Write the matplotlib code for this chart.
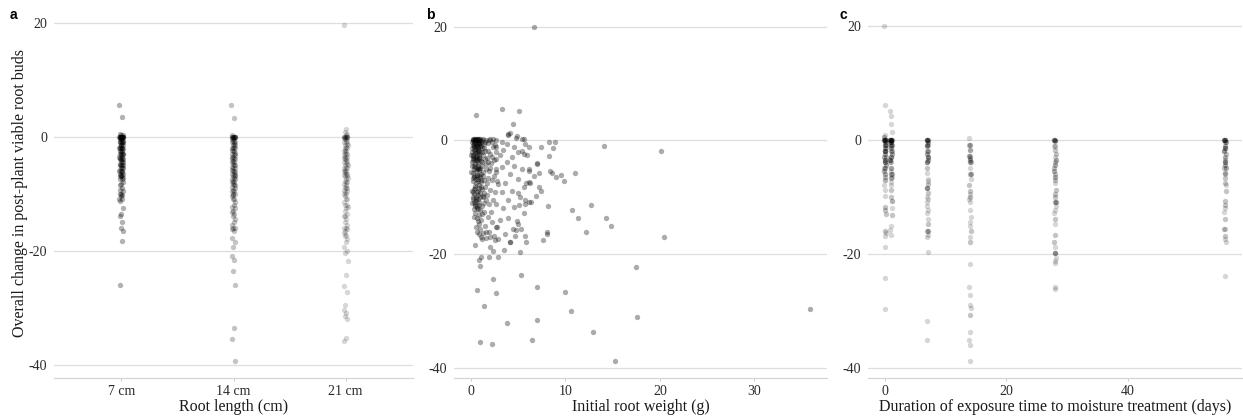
import numpy as np
import matplotlib
matplotlib.use("Agg")
import matplotlib.pyplot as plt

# ---------------- data ----------------
length_labels = ["7 cm", "14 cm", "21 cm"]
length_alpha = [0.30, 0.23, 0.16]

a_7cm = [5.5, 3.5, 0.5, 0.3, 0.2, 0, 0, 0, 0, 0, 0, 0, 0, 0, 0, 0, 0,
         -0.3, -0.5, -0.5, -0.5, -0.7, -1, -1, -1, -1, -1, -1.2, -1.5, -1.5, -1.5, -1.8,
         -2, -2, -2, -2, -2, -2.2, -2.5, -2.5, -2.5, -2.8, -3, -3, -3, -3, -3.3, -3.5, -3.5,
         -3.8, -4, -4, -4, -4, -4.3, -4.5, -4.5, -4.8, -5, -5, -5, -5, -5.3, -5.5, -5.5, -5.8,
         -6, -6, -6, -6.3, -6.5, -6.5, -6.8, -7, -7, -7, -7.3, -7.5, -7.5, -8, -8.3, -8.5,
         -9, -9.3, -9.5, -10, -10, -10.3, -10.5, -11, -11, -11.3, -12.5, -13.5, -14, -15, -16,
         -16.5, -18.4, -26]
a_14cm = [5.5, 3.3, 0.3, 0, 0, 0, 0, 0, 0, 0, 0, 0, -0.3, -0.5, -0.5, -0.8, -1, -1, -1, -1.3,
          -1.5, -1.5, -1.8, -2, -2, -2, -2.3, -2.5, -2.5, -2.8, -3, -3, -3.3, -3.5, -3.5, -3.8,
          -4, -4, -4.3, -4.5, -4.5, -4.8, -5, -5, -5.3, -5.5, -5.5, -5.8, -6, -6, -6.3, -6.5,
          -6.5, -6.8, -7, -7, -7.3, -7.5, -7.5, -7.8, -8, -8, -8.3, -8.5, -8.5, -8.8, -9, -9.3,
          -9.5, -9.5, -10, -10, -10.3, -10.5, -11, -11, -11.5, -12, -12.3, -12.5, -13, -13.3,
          -13.5, -14, -14.5, -15, -15.5, -16, -16, -16.3, -16.5, -17.8, -18.5, -19.4, -21,
          -21.7, -23.6, -26, -33.6, -35.5, -39.4]
a_21cm = [19.6, 1.35, 0.8, 0.5, 0.3, 0, 0, 0, 0, 0, 0, 0, 0, -0.3, -0.5, -0.5, -0.8, -1, -1,
          -1.3, -1.5, -1.5, -1.8, -2, -2, -2.3, -2.5, -2.5, -2.8, -3, -3, -3.3, -3.5, -3.5,
          -3.8, -4, -4, -4.3, -4.5, -4.5, -4.8, -5, -5, -5.3, -5.5, -5.5, -5.8, -6, -6, -6.3,
          -6.5, -6.5, -6.8, -7, -7, -7.3, -7.5, -7.8, -8, -8, -8.3, -8.5, -8.8, -9, -9, -9.3,
          -9.5, -9.8, -10, -10, -10.5, -11, -11, -11.5, -12, -12, -12.3, -12.5, -13, -13.5,
          -14, -14, -14.5, -15, -15.5, -16, -16, -16.3, -16.5, -17, -17.3, -17.5, -18, -18.5,
          -19.3, -20, -20.4, -21.9, -24.2, -26.3, -27.3, -29.5, -30.4, -31, -31.5, -32, -35.4,
          -35.8]

# panel b: (initial root weight g, change)
b_cluster = [
    (0.2, 0.3), (0.4, 0.2), (0.6, 0.3), (0.8, 0.1), (1.0, 0.2), (1.3, 0.3), (1.6, 0.1), (2.0, 0.3),
    (2.3, 0.2), (0.3, -0.3), (0.5, -0.5), (0.7, -0.2), (0.9, -0.6), (1.1, -0.4), (1.4, -0.7),
    (0.2, -0.8), (0.6, -0.9), (1.8, -0.5), (0.4, 0.0), (0.8, -0.3),
    (0.3, -1.2), (0.5, -1.5), (0.7, -1.1), (0.9, -1.8), (1.2, -1.3), (0.1, -2.0), (0.4, -2.2),
    (0.6, -2.5), (1.0, -2.1), (1.5, -1.9), (0.2, -2.8), (0.8, -2.9), (1.3, -2.6), (2.0, -2.4),
    (0.0, -2.6), (0.5, -3.0), (1.7, -3.0), (0.3, -1.7),
    (0.2, -3.4), (0.6, -3.6), (0.9, -3.3), (1.2, -3.8), (0.4, -4.1), (0.1, -4.5), (0.7, -4.4),
    (1.0, -4.8), (1.6, -4.2), (2.1, -4.0), (0.3, -5.0), (0.5, -5.4), (0.8, -5.2), (1.3, -5.6),
    (0.2, -5.8), (1.9, -5.3), (0.6, -6.0), (1.1, -5.9), (2.4, -6.2), (0.0, -5.5),
    (0.3, -6.4), (0.7, -6.7), (1.0, -6.5), (1.4, -7.0), (0.2, -7.2), (0.5, -7.5), (0.9, -7.8),
    (1.7, -7.4), (2.2, -6.9), (0.4, -8.0), (0.8, -8.3), (1.2, -8.6), (0.1, -8.8), (0.6, -9.0),
    (1.5, -8.1), (2.0, -8.7),
    (0.3, -9.4), (0.7, -9.6), (1.0, -9.3), (1.3, -10.0), (0.2, -10.3), (0.5, -10.6), (0.9, -10.8),
    (1.6, -10.4), (0.4, -11.1), (0.8, -11.3), (0.1, -11.0), (1.2, -11.6), (0.6, -11.9),
    (1.9, -11.2), (0.3, -12.0), (1.0, -12.2),
    (0.4, -12.8), (0.9, -13.1), (1.4, -12.6), (0.6, -13.6), (1.1, -14.0), (1.8, -13.4),
    (0.8, -14.6), (1.5, -15.0), (2.2, -14.3), (1.0, -15.6), (0.5, -15.2), (1.3, -16.2),
    (1.9, -16.0), (0.9, -16.4), (2.4, -16.8), (1.6, -17.2), (2.0, -17.0), (1.2, -17.3),
    (2.8, -15.2), (2.5, -17.5),
    (0.25, 0.1), (0.45, -0.1), (0.65, 0.0), (0.85, -0.4), (1.05, -0.1), (0.35, -0.7), (0.55, -1.0),
    (0.75, -1.3), (0.95, -0.9), (0.15, -1.4), (0.45, -1.9), (0.65, -2.1), (0.85, -2.4),
    (0.25, -2.5), (1.15, -2.0), (0.35, -3.2), (0.55, -3.5), (0.75, -3.9), (0.95, -3.0),
    (0.15, -3.7), (0.5, -0.6), (0.3, 0.3), (0.7, 0.3), (0.4, -4.6), (0.6, -5.0), (0.3, -6.2),
    (0.5, -6.8), (0.7, -7.2), (0.4, -8.4), (0.5, -9.9), (0.3, -10.8), (0.6, -11.5), (0.7, -10.2),
    (0.2, -9.1), (0.9, -5.0), (1.1, -7.0),
    (0.2, 0.0), (0.5, 0.2), (0.9, 0.3), (1.2, 0.0), (1.5, -0.3), (1.9, 0.1), (2.2, -0.2),
    (0.35, -1.0), (0.75, -1.6), (1.1, -1.0), (1.4, -1.4), (1.8, -1.8), (2.3, -1.2),
    (0.25, -3.0), (0.65, -3.2), (1.05, -3.6), (1.45, -3.3), (1.85, -3.7), (2.25, -2.9),
    (0.35, -4.4), (0.75, -4.9), (1.15, -4.5), (1.55, -5.1), (2.0, -4.8),
    (0.25, -6.6), (0.65, -6.3), (1.05, -7.3), (1.3, -6.2), (1.85, -6.6),
    (0.35, -8.6), (0.75, -8.9), (1.05, -8.2), (1.4, -9.2), (1.75, -9.5),
    (0.25, -10.0), (0.55, -10.3), (0.95, -10.0), (1.35, -11.0), (0.45, -11.6), (0.75, -12.0),
    (0.3, -13.5), (0.7, -14.2), (1.2, -13.0), (0.6, -16.0), (1.1, -16.9), (1.6, -16.0),
    (2.6, 0.1), (2.5, -0.8), (2.7, -2.0), (2.4, -3.5), (2.6, -5.0), (2.8, -7.2), (2.5, -9.0),
    (2.3, -10.5), (2.1, -12.5), (0.15, -0.2), (0.55, -2.8), (0.85, -6.0), (1.25, -9.8),
]
b_spread = [
    (3.97, 1.1), (4.75, 0.5), (5.4, 0.2), (3.26, -0.3), (3.8, -0.6), (5.74, -0.6), (4.57, -1.1),
    (6.1, -1.2), (2.7, -1.2), (3.43, -1.75), (5.0, -2.0), (5.57, -2.3), (3.1, -2.6), (4.33, -2.9),
    (2.7, -3.2), (3.8, -3.8), (7.0, -4.0), (4.6, -4.4), (3.26, -4.7), (5.4, -5.0), (2.7, -5.6),
    (4.15, -5.9), (6.1, -5.3), (5.0, -6.8), (3.6, -7.4), (6.3, -7.4), (2.9, -7.6), (5.57, -8.2),
    (4.33, -8.8), (7.2, -8.2), (3.26, -9.1), (5.2, -9.9), (3.97, -10.5), (2.7, -11.1),
    (6.1, -10.8), (4.6, -11.7), (3.43, -11.9), (5.57, -12.8), (3.97, -13.7), (3.1, -14.0),
    (5.0, -14.6), (2.7, -15.2), (4.4, -15.5), (3.6, -16.4), (5.75, -16.7), (2.9, -17.3),
    (4.15, -17.9), (2.0, -18.8),
]
b_outliers = [
    (6.63, 19.9), (3.26, 5.56), (5.1, 5.26), (0.53, 4.4), (4.4, 2.9), (4.15, 1.3), (3.97, 0.9),
    (4.86, 0.7), (5.57, 0.3), (8.3, -0.2), (8.94, -0.2), (14.1, -1.05), (20.07, -1.9),
    (7.45, -1.2), (8.65, -1.3), (8.3, -2.7), (5.4, -1.9), (5.9, -2.6), (7.0, -4.1), (6.1, -5.0),
    (7.2, -5.7), (8.4, -5.4), (8.6, -5.8), (9.0, -6.4), (9.5, -6.1), (9.86, -7.2), (11.0, -5.7),
    (6.63, -6.3), (6.1, -7.3), (5.8, -7.5), (7.4, -8.9), (6.9, -9.8), (6.4, -10.8), (5.74, -11.2),
    (5.7, -10.5), (8.2, -11.6), (12.7, -11.4), (10.7, -12.2), (11.3, -13.6), (14.26, -13.7),
    (14.8, -15.0), (12.2, -16.1), (8.05, -16.0), (8.05, -16.4), (7.6, -17.5), (5.8, -17.9),
    (20.4, -17.0), (5.0, -9.2), (5.1, -11.4), (4.9, -14.2), (5.3, -15.6), (4.75, -15.8),
    (4.7, -16.8), (4.15, -17.8), (3.55, -19.3), (5.14, -19.6), (2.84, -20.4), (2.3, -19.4),
    (1.9, -20.5), (1.03, -20.5), (0.89, -21.0), (0.92, -22.1), (0.43, -18.3), (17.5, -22.3),
    (5.32, -23.7), (2.3, -24.4), (6.95, -25.7), (0.6, -26.2), (2.66, -26.8), (9.93, -26.6),
    (1.42, -29.1), (10.6, -30.0), (17.6, -31.0), (35.9, -29.6), (3.83, -32.0), (6.95, -31.5),
    (12.9, -33.6), (1.0, -35.4), (2.27, -35.7), (6.5, -35.1), (15.2, -38.8),
]
b_alpha = 0.33

# panel c: days of exposure -> changes, split by root length
c_days = [0, 1, 7, 14, 28, 56]
c_7cm = {
    0: [0.5, 0, 0, 0, 0, 0, -0.5, -1, -1, -1.5, -2, -2, -2.5, -3, -3.5, -4, -4.5, -5, -5.5, -6,
        -7],
    1: [0, 0, 0, 0, 0, -0.5, -0.5, -1, -1, -1.5, -2, -2.5, -3, -3.5, -6, -6.7, -10.8],
    7: [0, 0, 0, -0.5, -1, -1.2, -2, -2.5, -3, -3.5, -4, -16, -8.5],
    14: [-2.8, -3.5, -4, -6, -0.9],
    28: [0, 0, -0.3, -3.5, -4.5, -5.5, -6.5, -11, -11, -19.9],
    56: [0, 0, 0, -0.5, -1.2, -2, -3, -4, -5, -5.9, -1.5, -4.5],
}
c_14cm = {
    0: [0, -1, -2, -3, -4, -5, -6.5, -11.8, -13, -16, -12.3],
    1: [0, -0.5, -1.2, -2, -3, -3.5, -4, -5, -6, -8.8, -10, -13.2],
    7: [0, -1, -2, -3, -4, -5, -7.8, -8.5, -9.4, -14.8, -16],
    14: [-0.9, -2.8, -3.2, -4, -6, -7.9, -9, -10, -16, -17.9, -30.8, -1.8],
    28: [0, -1.2, -1.9, -2.6, -4, -5, -6, -7, -8.9, -9.5, -10, -14, -16.7, -18, -19.9],
    56: [0, -0.5, -1.5, -2.5, -3.5, -5, -6.7, -7.6, -9.1, -10.8, -11.4, -13.9, -17, -15.7],
}
c_21cm = {
    0: [19.9, 6.1, 0.8, -1.5, -3.5, -8, -8.8, -9.9, -16.4, -17, -18.9, -24.2, -29.7],
    1: [5, 4.1, 2.8, 1.3, 0, -4, -5, -5.5, -6.5, -7.5, -8, -12, -15.2, -15.8, -16.7],
    7: [-5.9, -6.9, -10, -10.5, -11, -11.7, -12.3, -12.9, -14, -16.7, -17.1, -19.8, -31.8,
        -35.2, -7.2],
    14: [0.3, -1.8, -5, -6.9, -9.5, -10.5, -11, -12.3, -13.5, -14.5, -15.2, -17.1, -21.9,
         -25.9, -27.2, -29, -29.6, -33.8, -35.2, -36.1, -38.9],
    28: [-1.2, -3, -7.6, -11.7, -12.3, -12.9, -14.8, -18.9, -20.8, -21.3, -21.7, -25.8, -26.2],
    56: [-2, -4, -6, -8, -12, -12.7, -15.7, -17.5, -17.9, -23.9],
}

y_ticks = [-40, -20, 0, 20]

# ---------------- figure ----------------
W, H = 1243, 417
fig = plt.figure(figsize=(W / 100, H / 100), dpi=100)

SERIF = ["Liberation Serif", "DejaVu Serif"]
GRID = "#dedede"
AXLINE = "#d6d6d6"
TICKCOL = "#2a2a2a"
TICKFS = 10


def box(l, r, t, b):
    return [l / W, 1 - b / H, (r - l) / W, (b - t) / H]


def jitter(n, width):
    # deterministic low-discrepancy horizontal spread (position only)
    k = np.arange(n)
    return (((k * 0.6180339887) % 1.0) * 2 - 1) * width


def padded(lo, hi, frac=0.05):
    d = (hi - lo) * frac
    return lo - d, hi + d


def style(ax, ylo, yhi):
    for s in ["left", "right", "top"]:
        ax.spines[s].set_visible(False)
    ax.spines["bottom"].set_color(AXLINE)
    ax.spines["bottom"].set_linewidth(0.9)
    ax.set_yticks(y_ticks)
    ax.set_yticklabels([str(v) for v in y_ticks], family=SERIF, fontsize=TICKFS, color=TICKCOL)
    ax.set_ylim(ylo, yhi)
    ax.yaxis.grid(True, color=GRID, linewidth=0.9)
    ax.xaxis.grid(False)
    ax.set_axisbelow(True)
    ax.tick_params(axis="y", length=0, pad=5)
    ax.tick_params(axis="x", length=2.2, width=0.8, color="#cfcfcf", pad=2.5)
    ax.set_facecolor("white")


ax_a = fig.add_axes(box(54, 413, 8, 378))
ax_b = fig.add_axes(box(454, 827, 10.5, 378))
ax_c = fig.add_axes(box(868, 1242, 9.5, 378))

PT = 15  # marker area

# panel a
groups_a = [a_7cm, a_14cm, a_21cm]
all_a = [v for g in groups_a for v in g]
for i, (vals, al) in enumerate(zip(groups_a, length_alpha)):
    vals = np.array(vals, dtype=float)
    x = (i + 1) + jitter(len(vals), 0.018)
    ax_a.scatter(x, vals, s=PT, color="black", alpha=al, linewidths=0)
style(ax_a, *padded(min(all_a), max(all_a)))
ax_a.set_xlim(0.4, 3.6)
ax_a.set_xticks([1, 2, 3])
ax_a.set_xticklabels(length_labels, family=SERIF, fontsize=TICKFS, color=TICKCOL)
ax_a.set_xlabel("Root length (cm)", family=SERIF, fontsize=11.5, color="#1a1a1a", labelpad=1)

# panel b
b_pts = b_cluster + b_spread + b_outliers
bx = np.array([p[0] for p in b_pts])
by = np.array([p[1] for p in b_pts])
ax_b.scatter(bx, by, s=PT, color="black", alpha=b_alpha, linewidths=0)
style(ax_b, *padded(by.min(), by.max()))
ax_b.set_xlim(*padded(bx.min() if bx.min() > 0 else 0, bx.max()))
ax_b.set_xticks([0, 10, 20, 30])
ax_b.set_xticklabels(["0", "10", "20", "30"], family=SERIF, fontsize=TICKFS, color=TICKCOL)
ax_b.set_xlabel("Initial root weight (g)", family=SERIF, fontsize=11.5, color="#1a1a1a", labelpad=1)

# panel c
all_c = []
for d_map, al in zip([c_7cm, c_14cm, c_21cm], length_alpha):
    for d in c_days:
        vals = np.array(d_map[d], dtype=float)
        all_c.extend(vals.tolist())
        x = d + jitter(len(vals), 0.12)
        ax_c.scatter(x, vals, s=PT, color="black", alpha=al, linewidths=0)
style(ax_c, *padded(min(all_c), max(all_c)))
ax_c.set_xlim(*padded(min(c_days), max(c_days)))
ax_c.set_xticks([0, 20, 40])
ax_c.set_xticklabels(["0", "20", "40"], family=SERIF, fontsize=TICKFS, color=TICKCOL)
ax_c.set_xlabel("Duration of exposure time to moisture treatment (days)", family=SERIF,
                fontsize=11.5, color="#1a1a1a", labelpad=1)

# y label and panel letters
fig.text(20 / W, 1 - 193 / H, "Overall change in post-plant viable root buds", rotation=90,
         ha="center", va="center", family=SERIF, fontsize=11.5, color="#1a1a1a")
for lx, ly, lab in [(13, 15, "a"), (430, 15, "b"), (843, 15, "c")]:
    fig.text(lx / W, 1 - ly / H, lab, ha="center", va="center", fontsize=10,
             fontweight="bold", family=["Liberation Sans", "DejaVu Sans"], color="black")

fig.savefig("out.png", dpi=100)
